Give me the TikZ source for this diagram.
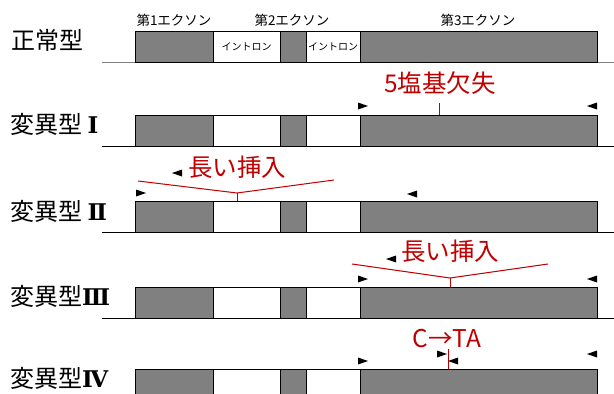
\documentclass[tikz,border=0pt]{standalone}
\usepackage{fontspec}
\setmainfont{Noto Sans CJK JP}
\newfontfamily\numfont{DejaVu Serif}
\definecolor{exgray}{HTML}{808080}
\definecolor{mutred}{HTML}{C00000}
\tikzset{
  seg/.style={draw=black, line width=0.8pt, inner sep=0pt, outer sep=0pt, minimum height=31pt, anchor=north west},
  exon/.style={seg, fill=exgray},
  intron/.style={seg, fill=white},
  baseln/.style={line width=1pt, draw=#1},
  baseln/.default=black,
  rowlabel/.style={anchor=west, inner sep=0pt, font=\fontsize{24}{24}\selectfont},
  exlabel/.style={inner sep=0pt, font=\fontsize{13.5}{13.5}\selectfont},
  redlabel/.style={inner sep=0pt, text=mutred, font=\fontsize{24.5}{24.5}\selectfont},
  redline/.style={draw=mutred, line width=1pt},
  fwd/.pic={\fill[black] (-5,-3.5) -- (5,0) -- (-5,3.5) -- cycle;},
  rev/.pic={\fill[black] (5,-3.5) -- (-5,0) -- (5,3.5) -- cycle;}
}
\newcommand\rn[1]{{\numfont\bfseries\fontsize{23}{23}\selectfont #1}}
\newcommand\generow[4]{%
  % #1 prefix, #2 top y, #3 baseline colour, #4 intron text
  \draw[baseln=#3] (102,#2+31) coordinate (#1bl) -- (614,#2+31) coordinate (#1br);
  \node[exon, minimum width=78pt] (#1e1) at (135,#2) {};
  \node[intron, minimum width=67pt, font=\fontsize{10}{10}\selectfont] (#1i1) at (213,#2) {#4};
  \node[exon, minimum width=26pt] (#1e2) at (280,#2) {};
  \node[intron, minimum width=54pt, font=\fontsize{10}{10}\selectfont] (#1i2) at (306,#2) {#4};
  \node[exon, minimum width=237pt] (#1e3) at (360,#2) {};
}
\begin{document}
\begin{tikzpicture}[x=1pt, y=-1pt]
\useasboundingbox (0,0) rectangle (614,394);
\clip (0,0) rectangle (614,394);

% row 0: normal
\generow{ra}{31}{exgray}{イントロン}
\node[rowlabel] (la) at (11,40) {正常型};
\node[exlabel] (x1) at (174,20) {第1エクソン};
\node[exlabel] (x2) at (292,20) {第2エクソン};
\node[exlabel] (x3) at (478,20) {第3エクソン};

% row 1
\generow{rb}{115}{black}{}
\node[rowlabel] (lb) at (10,124) {変異型 \rn{Ⅰ}};
\node[redlabel] (del) at (440,83) {5塩基欠失};
\coordinate (delp) at (439,103);
\draw[redline] (delp) -- (delp |- rbe3.north);
\pic at (363,106) {fwd};
\pic at (592,106) {rev};

% row 2
\generow{rc}{201}{black}{}
\node[rowlabel] (lc) at (10,211) {変異型 \rn{Ⅱ}};
\node[redlabel] (ins2) at (237,167) {長い挿入};
\coordinate (ins2l) at (138,181);
\coordinate (ins2m) at (237,193);
\coordinate (ins2r) at (334,180);
\draw[redline] (ins2l) -- (ins2m) -- (ins2r);
\draw[redline] (ins2m) -- (ins2m |- rce1.north);
\pic at (177,173) {rev};
\pic at (141,193) {fwd};
\pic at (412,194) {rev};

% row 3
\generow{rd}{287}{black}{}
\node[rowlabel] (ld) at (10,296) {変異型\rn{Ⅲ}};
\node[redlabel] (ins3) at (450,251) {長い挿入};
\coordinate (ins3l) at (352,264);
\coordinate (ins3m) at (450,278);
\coordinate (ins3r) at (548,264);
\draw[redline] (ins3l) -- (ins3m) -- (ins3r);
\draw[redline] (ins3m) -- (ins3m |- rde3.north);
\pic at (391,259) {rev};
\pic at (363,279) {fwd};
\pic at (592,279) {rev};

% row 4
\generow{re}{369}{black}{}
\node[rowlabel] (le) at (10,378) {変異型\rn{Ⅳ}};
\node[redlabel] (sub) at (447,339) {C→TA};
\coordinate (subp) at (448,349);
\draw[redline] (subp) -- (subp |- ree3.north);
\pic at (442,354) {fwd};
\pic at (453,361) {rev};
\pic at (363,361) {fwd};
\pic at (592,354) {rev};
\end{tikzpicture}
\end{document}
